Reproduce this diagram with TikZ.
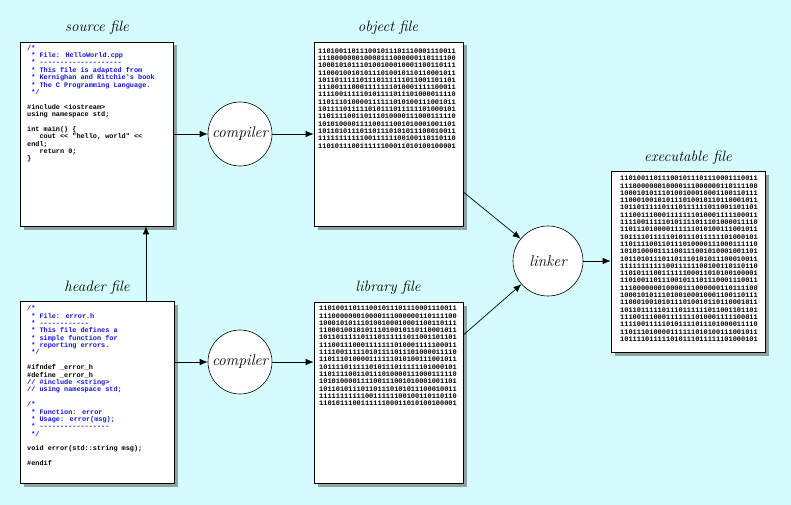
\documentclass[tikz,border=0pt]{standalone}
\usepackage{fontspec}
\usetikzlibrary{arrows.meta,shadows}
\newfontfamily\codefont{Liberation Mono}[Ligatures=TeXOff]
\definecolor{bgcyan}{RGB}{212,252,252}
\definecolor{codeblue}{RGB}{20,20,230}
\newcommand\cb[1]{\textcolor{codeblue}{#1}}
\newcommand\bintop{110100110111001011101110001110011\\
111000000010000111000000110111100\\
100010101110100100010001100110111\\
110001001010111010010110110001011\\
101101111101110111111011001101101\\
111001110001111111010001111100011\\
111100111110101111011101000011110\\
110111010000111111010100111001011\\
101111011111010111011111101000101}
\newcommand\binbot{110111100110111010000111000111110\\
101010000111100111001010001001101\\
101101011101101110101011100010011\\
111111111110011111100100110110110\\
110101110011111100011010100100001}
\tikzset{
  filebox/.style={draw=black, line width=0.6pt, fill=white, inner sep=0pt,
    drop shadow={shadow xshift=3.5pt, shadow yshift=-3.5pt, fill=black!60, opacity=0.6}},
  procnode/.style={circle, draw=black, line width=0.6pt, fill=white, inner sep=0pt,
    font=\itshape\fontsize{15.5}{18}\selectfont},
  titlenode/.style={font=\itshape\fontsize{15}{18}\selectfont, inner sep=0pt},
  codetext/.style={font=\codefont\bfseries\fontsize{6.85}{7.38}\selectfont, align=left, inner sep=0pt, anchor=north west},
  bintext/.style={font=\codefont\bfseries\fontsize{6.95}{7.3}\selectfont, align=left, inner sep=0pt, anchor=north west},
  arr/.style={draw=black, line width=0.7pt, -{Latex[length=8pt,width=6.5pt]}}
}
\begin{document}
\begin{tikzpicture}[x=1pt,y=-1pt]
\fill[bgcyan] (0,0) rectangle (791,505);
\useasboundingbox (0,0) rectangle (791,505);

% boxes
\node[filebox, minimum width=153pt, minimum height=184pt] (src) at (96.5,134) {};
\node[filebox, minimum width=154pt, minimum height=182pt] (hdr) at (97,392) {};
\node[filebox, minimum width=149pt, minimum height=184pt] (obj) at (388.5,134) {};
\node[filebox, minimum width=149pt, minimum height=181pt] (lib) at (388.5,392.5) {};
\node[filebox, minimum width=154pt, minimum height=181pt] (exe) at (688,261.5) {};

% titles
\node[titlenode] (tsrc) at (97,28) {source file};
\node[titlenode] (tobj) at (388,28) {object file};
\node[titlenode] (thdr) at (97,288) {header file};
\node[titlenode] (tlib) at (388,288) {library file};
\node[titlenode] (texe) at (688,158) {executable file};

% code texts
\node[codetext] (srctxt) at (27,44.5) {\rule{0pt}{5.5pt}\cb{/*}\\
\cb{~* File: HelloWorld.cpp}\\
\cb{~* --------------------}\\
\cb{~* This file is adapted from}\\
\cb{~* Kernighan and Ritchie's book}\\
\cb{~* The C Programming Language.}\\
\cb{~*/}\\
\mbox{}\\
\#include <iostream>\\
using namespace std;\\
\mbox{}\\
int main() \{\\
~~~cout << "hello, world" <<\\
endl;\\
~~~return 0;\\
\}};

\node[codetext] (hdrtxt) at (27,305) {\rule{0pt}{5.5pt}\cb{/*}\\
\cb{~* File: error.h}\\
\cb{~* ------------}\\
\cb{~* This file defines a}\\
\cb{~* simple function for}\\
\cb{~* reporting errors.}\\
\cb{~*/}\\
\mbox{}\\
\#ifndef \_error\_h\\
\#define \_error\_h\\
\cb{// \#include <string>}\\
\cb{// using namespace std;}\\
\mbox{}\\
\cb{/*}\\
\cb{~* Function: error}\\
\cb{~* Usage: error(msg);}\\
\cb{~* -----------------}\\
\cb{~*/}\\
\mbox{}\\
void error(std::string msg);\\
\mbox{}\\
\#endif};

\node[bintext] (objtxt) at (318,47.5) {\rule{0pt}{5.5pt}\bintop\\\binbot};
\node[bintext] (libtxt) at (319,305) {\rule{0pt}{5.5pt}\bintop\\\binbot};
\node[bintext] (exetxt) at (620,175) {\rule{0pt}{5.5pt}\bintop\\\binbot\\\bintop};

% processes
\node[procnode, minimum size=64pt] (cmpa) at (240,134) {compiler};
\node[procnode, minimum size=64pt] (cmpb) at (240,362) {compiler};
\node[procnode, minimum size=70pt] (lnk) at (548,261) {linker};

% helper coordinates
\coordinate (upx) at (146,0);
\coordinate (objout) at (0,192);
\coordinate (libout) at (0,335);

% connectors
\draw[arr] (src.east |- cmpa) -- (cmpa);
\draw[arr] (cmpa) -- (obj.west |- cmpa);
\draw[arr] (hdr.east |- cmpb) -- (cmpb);
\draw[arr] (cmpb) -- (lib.west |- cmpb);
\draw[arr] (hdr.north -| upx) -- (src.south -| upx);
\draw[arr] (obj.east |- objout) -- (lnk);
\draw[arr] (lib.east |- libout) -- (lnk);
\draw[arr] (lnk) -- (exe.west |- lnk);
\end{tikzpicture}
\end{document}
